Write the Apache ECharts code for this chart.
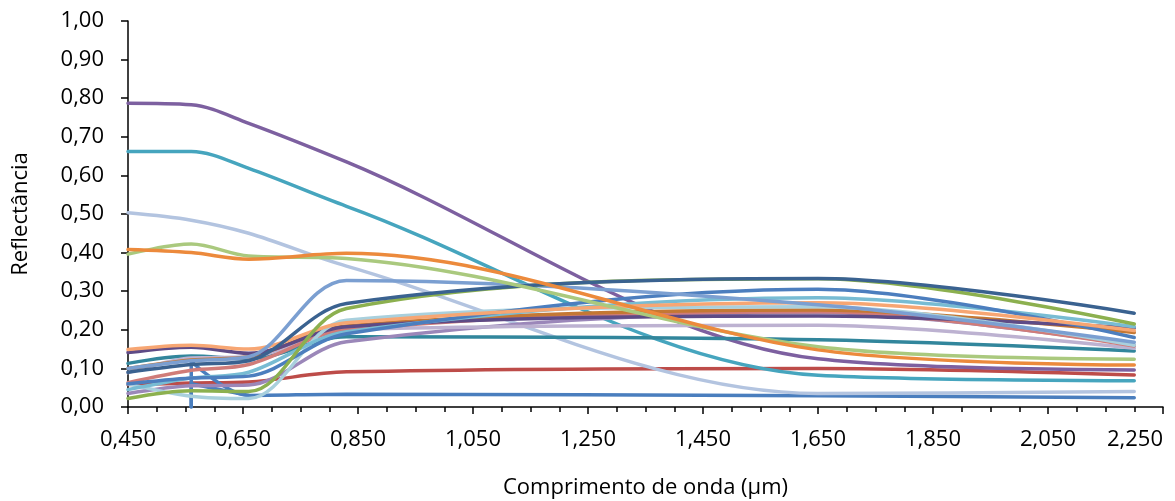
<!DOCTYPE html>
<html>
<head>
<meta charset="utf-8">
<script src="https://cdn.jsdelivr.net/npm/echarts@6/dist/echarts.min.js"></script>
<style>
  html, body { margin: 0; padding: 0; background: #ffffff; }
  #chart { width: 1175px; height: 501px; }
</style>
</head>
<body>
<div id="chart"></div>
<script>
// Band centre wavelengths (µm) shared by most spectra
const wavelengths = [0.45, 0.56, 0.66, 0.83, 1.65, 2.2];

// Reflectance of each sample at those wavelengths
const amostra01 = [0.787, 0.783, 0.735, 0.635, 0.125, 0.096];
const amostra02 = [0.662, 0.662, 0.618, 0.520, 0.082, 0.068];
const amostra03 = [0.503, 0.484, 0.450, 0.365, 0.035, 0.040];
const amostra04 = [0.408, 0.400, 0.383, 0.398, 0.148, 0.109];
const amostra05 = [0.396, 0.422, 0.391, 0.385, 0.156, 0.124];
const amostra06 = [0.100, 0.120, 0.130, 0.328, 0.265, 0.168];
const amostra07 = [0.090, 0.110, 0.120, 0.268, 0.333, 0.243];
const amostra08 = [0.022, 0.042, 0.040, 0.255, 0.332, 0.215];
const amostra09 = [0.060, 0.075, 0.080, 0.190, 0.305, 0.180];
const amostra10 = [0.045, 0.075, 0.090, 0.195, 0.283, 0.208];
const amostra11 = [0.060, 0.028, 0.022, 0.225, 0.260, 0.160];
const amostra12 = [0.149, 0.160, 0.150, 0.218, 0.270, 0.198];
const amostra13 = [0.141, 0.155, 0.139, 0.208, 0.236, 0.205];
const amostra14 = [0.100, 0.122, 0.130, 0.210, 0.251, 0.193];
const amostra15 = [0.063, 0.095, 0.110, 0.200, 0.247, 0.158];
const amostra16 = [0.089, 0.127, 0.130, 0.201, 0.212, 0.152];
const amostra17 = [0.113, 0.132, 0.125, 0.182, 0.174, 0.145];
const amostra18 = [0.035, 0.055, 0.057, 0.169, 0.245, 0.160];
const amostra19 = [0.058, 0.062, 0.065, 0.091, 0.100, 0.083];

// Spectra that start at the green band
const amostra20X = [0.56, 0.56, 0.66, 0.83, 1.65, 2.2];
const amostra20 = [0.000, 0.118, 0.030, 0.033, 0.029, 0.024];
const amostra21X = [0.56, 0.56, 0.66];
const amostra21 = [0.000, 0.060, 0.030];

// Axis tick labels
const xTickLabels = ['0,450', '0,650', '0,850', '1,050', '1,250', '1,450', '1,650', '1,850', '2,050', '2,250'];
const yTickLabels = ['0,00', '0,10', '0,20', '0,30', '0,40', '0,50', '0,60', '0,70', '0,80', '0,90', '1,00'];

const spectra = [
  { name: 'Amostra 19', x: wavelengths, y: amostra19, color: '#BD4C49' },
  { name: 'Amostra 20', x: amostra20X, y: amostra20, color: '#4A7EBE' },
  { name: 'Amostra 21', x: amostra21X, y: amostra21, color: '#4A7EBE' },
  { name: 'Amostra 03', x: wavelengths, y: amostra03, color: '#B3C4E0' },
  { name: 'Amostra 02', x: wavelengths, y: amostra02, color: '#46A5BE' },
  { name: 'Amostra 01', x: wavelengths, y: amostra01, color: '#7D60A0' },
  { name: 'Amostra 17', x: wavelengths, y: amostra17, color: '#32869C' },
  { name: 'Amostra 18', x: wavelengths, y: amostra18, color: '#9B87B9' },
  { name: 'Amostra 16', x: wavelengths, y: amostra16, color: '#BDB2D1' },
  { name: 'Amostra 15', x: wavelengths, y: amostra15, color: '#D07C79' },
  { name: 'Amostra 14', x: wavelengths, y: amostra14, color: '#C47834' },
  { name: 'Amostra 13', x: wavelengths, y: amostra13, color: '#5E4B86' },
  { name: 'Amostra 11', x: wavelengths, y: amostra11, color: '#A9D0DD' },
  { name: 'Amostra 10', x: wavelengths, y: amostra10, color: '#78BCD3' },
  { name: 'Amostra 09', x: wavelengths, y: amostra09, color: '#4C7EBE' },
  { name: 'Amostra 12', x: wavelengths, y: amostra12, color: '#F7A673' },
  { name: 'Amostra 06', x: wavelengths, y: amostra06, color: '#7B9FD1' },
  { name: 'Amostra 08', x: wavelengths, y: amostra08, color: '#8CB04F' },
  { name: 'Amostra 07', x: wavelengths, y: amostra07, color: '#3A6290' },
  { name: 'Amostra 05', x: wavelengths, y: amostra05, color: '#AAC97E' },
  { name: 'Amostra 04', x: wavelengths, y: amostra04, color: '#EC8A3C' }
];

const FONT = '"Open Sans", sans-serif';
const FONT_SIZE = 22;
const chart = echarts.init(document.getElementById('chart'), null, { renderer: 'canvas' });

chart.setOption({
  animation: false,
  backgroundColor: '#ffffff',
  grid: { left: 128, right: 12, top: 21, bottom: 94, containLabel: false, outerBoundsMode: 'none' },
  xAxis: {
    type: 'value',
    min: 0.45,
    max: 2.25,
    interval: 0.2,
    name: 'Comprimento de onda (µm)',
    nameLocation: 'middle',
    nameGap: 70,
    nameTextStyle: { fontFamily: FONT, fontSize: FONT_SIZE, color: '#000' },
    axisLine: { show: true, onZero: false, lineStyle: { color: '#000', width: 1.5 } },
    axisTick: { show: true, inside: false, length: 7, lineStyle: { color: '#000', width: 1.5 } },
    minorTick: { show: true, splitNumber: 4, length: 5, lineStyle: { color: '#000', width: 1.5 } },
    splitLine: { show: false },
    axisLabel: {
      margin: 22,
      fontFamily: FONT, fontSize: FONT_SIZE, color: '#000',
      alignMaxLabel: 'right',
      formatter: v => xTickLabels[Math.round((v - 0.45) / 0.2)]
    }
  },
  yAxis: {
    type: 'value',
    min: 0,
    max: 1,
    interval: 0.1,
    name: 'Reflectância',
    nameLocation: 'middle',
    nameGap: 96,
    nameTextStyle: { fontFamily: FONT, fontSize: FONT_SIZE, color: '#000' },
    axisLine: { show: true, lineStyle: { color: '#000', width: 1.5 } },
    axisTick: { show: true, inside: false, length: 7, lineStyle: { color: '#000', width: 1.5 } },
    splitLine: { show: false },
    axisLabel: {
      margin: 24,
      fontFamily: FONT, fontSize: FONT_SIZE, color: '#000',
      formatter: v => yTickLabels[Math.round(v * 10)]
    }
  },
  series: spectra.map(s => ({
    name: s.name,
    type: 'line',
    data: s.x.map((x, i) => [x, s.y[i]]),
    smooth: 0.33,
    symbol: 'none',
    lineStyle: { color: s.color, width: 3.5, cap: 'round' },
    itemStyle: { color: s.color },
    emphasis: { disabled: true }
  }))
});
</script>
</body>
</html>
